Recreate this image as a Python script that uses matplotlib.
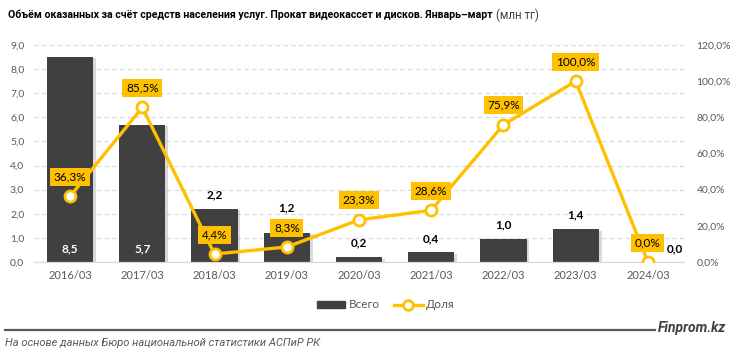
import matplotlib
matplotlib.use("Agg")
import matplotlib.pyplot as plt
import matplotlib.patheffects as pe
import numpy as np

# ------------------------------------------------------------
# DATA
# ------------------------------------------------------------
periods = ["2016/03", "2017/03", "2018/03", "2019/03", "2020/03",
           "2021/03", "2022/03", "2023/03", "2024/03"]
total = [8.5, 5.7, 2.2, 1.2, 0.2, 0.4, 0.96, 1.36, 0.0]
share = [36.3, 85.5, 4.4, 8.3, 23.3, 28.6, 75.9, 100.0, 0.0]

BAR_COLOR = "#404040"
LINE_COLOR = "#FFC000"
GRAY = "#595959"
FONT = "Lato"
TITLE_FONT = "Roboto"
W, H = 731, 355


def fmt(v, suffix=""):
    return f"{v:.1f}".replace(".", ",") + suffix


def fit_text(t, right_px, renderer):
    # shrink a text until its right edge sits at right_px
    for _ in range(4):
        bb = t.get_window_extent(renderer)
        scale = (right_px - bb.x0) / bb.width
        t.set_fontsize(t.get_fontsize() * scale)
    return t.get_window_extent(renderer)


fig = plt.figure(figsize=(W / 100, H / 100), dpi=100)
ax = fig.add_axes([34 / W, 1 - 262 / H, 650 / W, 217 / H])
ax2 = ax.twinx()

x = np.arange(len(periods))
shadow = [pe.SimplePatchShadow(offset=(2, -1), shadow_rgbFace="#000000", alpha=0.15), pe.Normal()]

# bars
bars = ax.bar(x, total, width=0.64, color=BAR_COLOR, zorder=2)
for b in bars:
    b.set_path_effects(shadow)
ax.set_ylim(0, 9)
ax.set_xlim(-0.5, len(periods) - 0.5)
ax.set_yticks(np.arange(0, 9.1, 1))
ax.set_yticklabels([fmt(v) for v in np.arange(0, 9.1, 1)])
ax.set_xticks(x)
ax.set_xticklabels(periods)
ax.yaxis.grid(True, linestyle=(0, (4, 3)), color="#D9D9D9", linewidth=0.8, zorder=0)
ax.set_axisbelow(True)

# bar labels (1,2 is lifted to clear the 8,3% box, as in the source)
for i, v in enumerate(total):
    if v > 4:
        ax.text(i, 0.55, fmt(v), ha="center", va="center", color="white",
                fontsize=8.5, fontweight="bold", family=FONT, zorder=5)
    elif i == len(total) - 1:
        ax.text(i + 0.37, 0.55, fmt(v), ha="center", va="center", color="black",
                fontsize=8.5, fontweight="bold", family=FONT, zorder=5)
    else:
        off = 18 if i == 3 else 10
        ax.annotate(fmt(v), (i, v), xytext=(0, off), textcoords="offset points",
                    ha="center", va="center", color="black",
                    fontsize=8.5, fontweight="bold", family=FONT, zorder=5)

# share line
ax2.plot(x, share, color=LINE_COLOR, linewidth=2.4, marker="o", markersize=8,
         markerfacecolor="white", markeredgecolor=LINE_COLOR, markeredgewidth=2,
         zorder=4)
ax2.set_ylim(0, 120)
ax2.set_yticks(np.arange(0, 121, 20))
ax2.set_yticklabels([fmt(v, "%") for v in np.arange(0, 121, 20)])

for i, v in enumerate(share):
    ax2.annotate(fmt(v, "%"), (i, v), xytext=(0, 14), textcoords="offset points",
                 ha="center", va="center", color="black", fontsize=8.5,
                 family=FONT, zorder=6,
                 bbox=dict(boxstyle="square,pad=0.3", facecolor=LINE_COLOR,
                           edgecolor="none"))

for a in (ax, ax2):
    for s in ["top", "left", "right"]:
        a.spines[s].set_visible(False)
    a.spines["bottom"].set_color("#D9D9D9")
    a.tick_params(length=0, labelsize=7.5, labelcolor=GRAY)
    for lbl in a.get_xticklabels() + a.get_yticklabels():
        lbl.set_family(FONT)
ax.tick_params(axis="x", pad=6, labelsize=8)
ax.tick_params(axis="y", pad=7)
ax2.tick_params(axis="y", pad=9)

# legend
h_bar = plt.Rectangle((0, 0), 1, 1, color=BAR_COLOR)
h_line = plt.Line2D([], [], color=LINE_COLOR, linewidth=2.4, marker="o", markersize=7,
                    markerfacecolor="white", markeredgecolor=LINE_COLOR, markeredgewidth=2)
fig.legend([h_bar, h_line], ["Всего", "Доля"], loc="center", bbox_to_anchor=(386 / W, 1 - 305 / H),
           ncol=2, frameon=False, prop={"family": FONT, "size": 8.5}, labelcolor=GRAY,
           handlelength=2.4, handleheight=0.5, columnspacing=1.2, handletextpad=0.3)

# title
fig.canvas.draw()
renderer = fig.canvas.get_renderer()
t1 = fig.text(8 / W, 1 - 15 / H,
              "Объём оказанных за счёт средств населения услуг. Прокат видеокассет и дисков. Январь–март",
              fontsize=10, fontweight="bold", family=TITLE_FONT, va="center", ha="left")
bb = fit_text(t1, 492, renderer)
fig.text((bb.x1 + 4) / W, 1 - 15 / H, "(млн тг)", fontsize=t1.get_fontsize() + 0.8,
         family=TITLE_FONT, color="#404040", va="center", ha="left")

# footer
fig.add_artist(plt.Line2D([5 / W, 655 / W], [1 - 330 / H, 1 - 330 / H],
                          color=GRAY, linewidth=1.6))
fig.text(726 / W, 1 - 328 / H, "Finprom.kz", fontsize=10, fontweight="bold", style="italic",
         family=TITLE_FONT, color="#404040", ha="right", va="center")
src = fig.text(5 / W, 1 - 343 / H, "На основе данных Бюро национальной статистики АСПиР РК",
               fontsize=8, style="italic", family=TITLE_FONT, color=GRAY, ha="left", va="center")
fit_text(src, 322, renderer)

fig.savefig("out.png", dpi=100)
